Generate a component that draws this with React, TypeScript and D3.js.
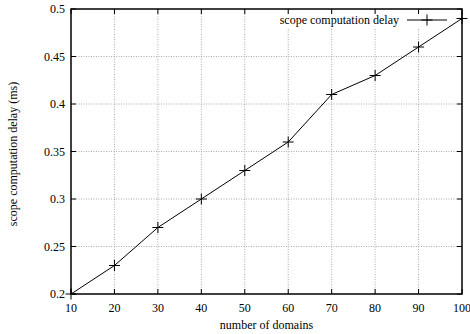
import React from "react";
import * as d3 from "d3";

const domains = [10, 20, 30, 40, 50, 60, 70, 80, 90, 100];
const delays = [0.2, 0.23, 0.27, 0.3, 0.33, 0.36, 0.41, 0.43, 0.46, 0.49];
const xTicks = [10, 20, 30, 40, 50, 60, 70, 80, 90, 100];
const yTicks = [0.2, 0.25, 0.3, 0.35, 0.4, 0.45, 0.5];
const seriesName = "scope computation delay";
const xLabel = "number of domains";
const yLabel = "scope computation delay (ms)";

export default function App() {
  const W = 470, H = 334;
  const L = 71, R = 462, T = 9, B = 294;
  const x = d3.scaleLinear().domain([10, 100]).range([L, R]);
  const y = d3.scaleLinear().domain([0.2, 0.5]).range([B, T]);
  const pts = domains.map((d, i) => [x(d), y(delays[i])] as [number, number]);
  const line = d3.line()(pts) || "";
  const font = "'Liberation Serif', 'DejaVu Serif', serif";
  const fs = 12;
  const tl = 5;
  const cross = (cx: number, cy: number, k: string) => (
    <path key={k} d={`M${cx - 5.5},${cy}H${cx + 5.5}M${cx},${cy - 5.5}V${cy + 5.5}`} stroke="#000" strokeWidth={1} />
  );
  return (
    <svg width={W} height={H} style={{ position: "absolute", left: 0, top: 0 }} fontFamily={font}>
      <rect x={0} y={0} width={W} height={H} fill="#fff" />
      {xTicks.slice(1, -1).map((t) => (
        <line key={"gx" + t} x1={x(t)} x2={x(t)} y1={T} y2={B} stroke="#aaa" strokeWidth={1} strokeDasharray="1,1.5" />
      ))}
      {yTicks.slice(1, -1).map((t) => (
        <line key={"gy" + t} x1={L} x2={R} y1={y(t)} y2={y(t)} stroke="#aaa" strokeWidth={1} strokeDasharray="1,1.5" />
      ))}
      <rect x={276} y={13} width={176} height={16} fill="#fff" />
      {xTicks.map((t) => (
        <g key={"tx" + t}>
          <line x1={x(t)} x2={x(t)} y1={B} y2={B - tl} stroke="#000" />
          <line x1={x(t)} x2={x(t)} y1={T} y2={T + tl} stroke="#000" />
          <text x={x(t)} y={B + 18} textAnchor="middle" fontSize={fs}>{t}</text>
        </g>
      ))}
      {yTicks.map((t) => (
        <g key={"ty" + t}>
          <line x1={L} x2={L + tl} y1={y(t)} y2={y(t)} stroke="#000" />
          <line x1={R} x2={R - tl} y1={y(t)} y2={y(t)} stroke="#000" />
          <text x={L - 6} y={y(t) + 4} textAnchor="end" fontSize={fs}>{String(t)}</text>
        </g>
      ))}
      <rect x={L} y={T} width={R - L} height={B - T} fill="none" stroke="#000" strokeWidth={1.5} />
      <path d={line} fill="none" stroke="#000" strokeWidth={1} />
      {pts.map((p, i) => cross(p[0], p[1], "m" + i))}
      <text x={399} y={24} textAnchor="end" fontSize={fs}>{seriesName}</text>
      <line x1={407} x2={447} y1={20} y2={20} stroke="#000" />
      {cross(427, 20, "leg")}
      <text x={(L + R) / 2} y={329} textAnchor="middle" fontSize={fs}>{xLabel}</text>
      <text transform={`translate(17,154) rotate(-90)`} textAnchor="middle" fontSize={fs}>{yLabel}</text>
    </svg>
  );
}
